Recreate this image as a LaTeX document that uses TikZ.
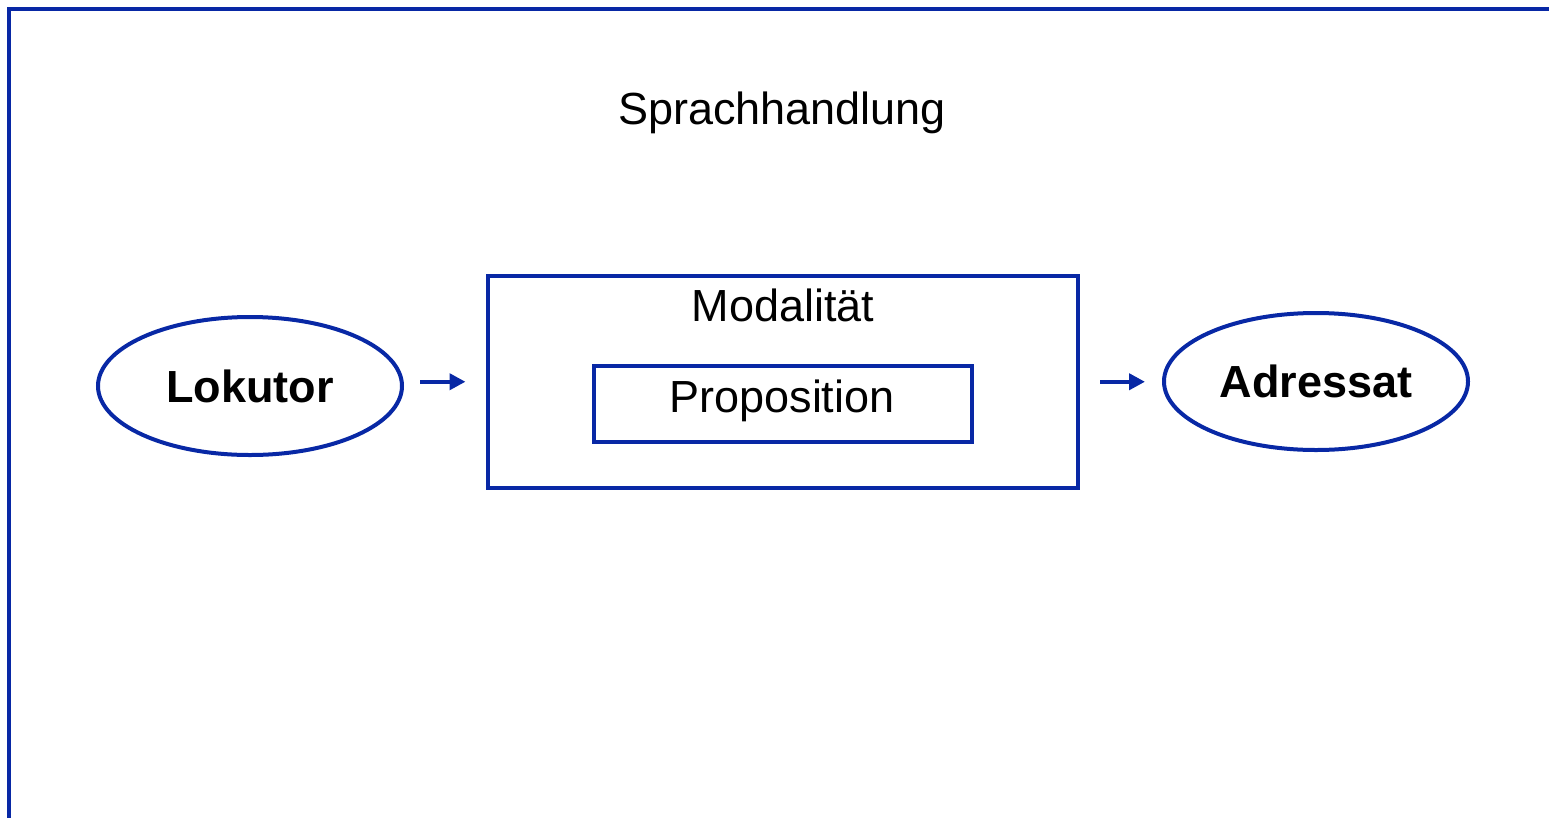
\documentclass[tikz,border=0pt]{standalone}
\usepackage{fontspec}
\setmainfont{Liberation Sans}
\usetikzlibrary{shapes.geometric,arrows.meta}
\definecolor{frameblue}{RGB}{8,40,165}
\begin{document}
\begin{tikzpicture}[x=1pt,y=-1pt,
  every node/.style={inner sep=0pt, outer sep=0pt},
  bigtext/.style={font=\fontsize{45}{54}\selectfont, text=black},
  boxed/.style={draw=frameblue, line width=4pt, rectangle},
  party/.style={draw=frameblue, line width=4pt, ellipse, bigtext, font=\fontsize{45}{54}\selectfont\bfseries},
  flow/.style={draw=frameblue, line width=4.5pt, -{Triangle[length=16pt,width=16pt]}}]
  \useasboundingbox (0,0) rectangle (1549,817);
  \clip (0,0) rectangle (1549,817);
  % outer frame, only its left and top sides lie inside the page
  \draw[frameblue, line width=4pt] (9,840) -- (9,9) -- (1580,9);
  % title
  \node[bigtext, anchor=base] (title) at (782,124) {Sprachhandlung};
  % modality box with the proposition inside
  \node[boxed, minimum width=590.5pt, minimum height=212.5pt] (modal) at (782.75,381.75) {};
  \node[bigtext, anchor=base] (modlabel) at (783,321) {Modalität};
  \node[boxed, minimum width=378.5pt, minimum height=76pt] (prop) at (782.75,404) {};
  \node[bigtext, anchor=base] (proplabel) at (782,412) {Proposition};
  % speaker and addressee
  \node[party, minimum width=304pt, minimum height=138pt] (lok) at (250,386) {Lokutor};
  \node[party, minimum width=304pt, minimum height=137pt] (adr) at (1316,381.5) {Adressat};
  % arrows
  \draw[flow, shorten <=18pt, shorten >=22pt] (lok.east |- modal.west) -- (modal.west);
  \draw[flow, shorten <=22pt, shorten >=19pt] (modal.east) -- (adr.west |- modal.east);
\end{tikzpicture}
\end{document}
